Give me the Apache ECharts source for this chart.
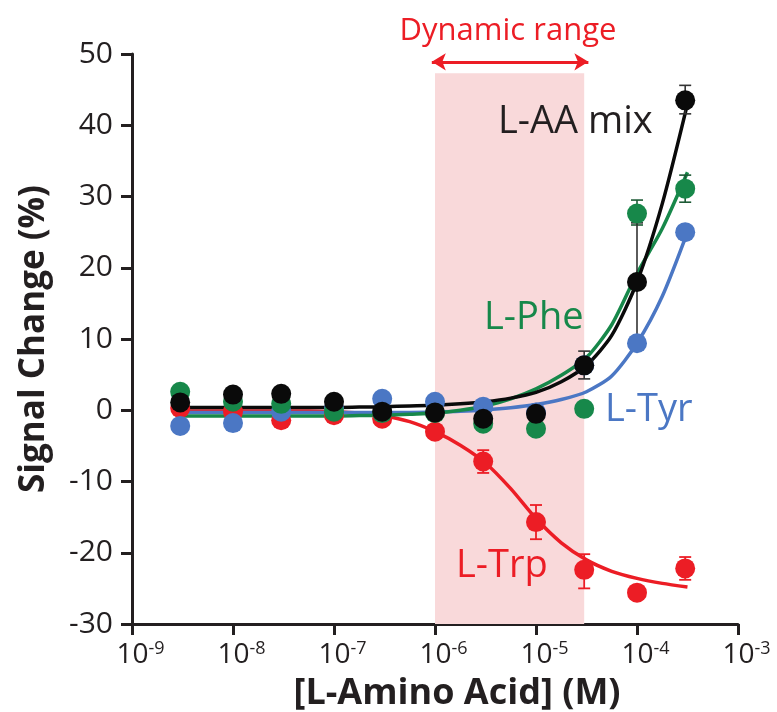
<!DOCTYPE html>
<html><head><meta charset="utf-8">
<script src="https://cdn.jsdelivr.net/npm/echarts@6/dist/echarts.min.js"></script>
<style>html,body{margin:0;padding:0;background:#fff}#c{width:777px;height:712px}</style>
</head><body><div id="c"></div>
<script>
// ---- data ----
const concentrations = [3e-9, 1e-8, 3e-8, 1e-7, 3e-7, 1e-6, 3e-6, 1e-5, 3e-5, 1e-4, 3e-4];
const trpValues = [0.3, -0.2, -1.4, -0.7, -1.2, -3.0, -7.2, -15.7, -22.4, -25.6, -22.2];
const tyrValues = [-2.2, -1.8, -0.2, 0.3, 1.6, 1.2, 0.5, -0.3, 6.3, 9.4, 25.0];
const pheValues = [2.6, 1.2, 0.9, -0.2, -0.4, -0.4, -1.9, -2.6, 0.2, 27.6, 31.1];
const mixValues = [1.1, 2.2, 2.3, 1.2, -0.2, -0.3, -1.2, -0.5, 6.3, 18.0, 43.5];

// fitted curves, every quarter decade
const curveX   = [3.16e-9, 5.62e-9, 1e-8, 1.78e-8, 3.16e-8, 5.62e-8, 1e-7, 1.78e-7, 3.16e-7, 5.62e-7, 1e-6,
                  1.78e-6, 3.16e-6, 5.62e-6, 1e-5, 1.78e-5, 3.16e-5, 5.62e-5, 1e-4, 1.78e-4, 3.16e-4];
const trpCurve = [-0.1, -0.1, -0.1, -0.1, -0.1, -0.1, -0.2, -0.4, -0.8, -1.6, -3.0,
                  -4.9, -7.4, -11.0, -15.2, -18.6, -21.0, -22.6, -23.6, -24.3, -24.8];
const tyrCurve = [-0.3, -0.3, -0.3, -0.3, -0.3, -0.3, -0.3, -0.3, -0.3, -0.3, -0.25,
                  -0.15, 0.05, 0.35, 0.8, 1.5, 2.6, 4.8, 9.4, 16.0, 25.0];
const pheCurve = [-0.8, -0.8, -0.8, -0.8, -0.8, -0.8, -0.8, -0.75, -0.7, -0.55, -0.4,
                  0.0, 0.6, 1.6, 3.0, 4.9, 7.4, 12.0, 19.2, 25.5, 33.4];
const mixCurve = [0.4, 0.4, 0.4, 0.4, 0.4, 0.4, 0.4, 0.45, 0.5, 0.6, 0.7,
                  0.9, 1.2, 1.7, 2.5, 4.0, 6.3, 10.5, 18.0, 29.0, 43.0];

// error bars: x, low, high
const trpErrX = [3e-6, 1e-5, 3e-5, 3e-4];
const trpErrLow = [-8.8, -18.1, -25.0, -23.8];
const trpErrHigh = [-5.6, -13.3, -20.2, -20.6];
const pheErrX = [1e-4, 3e-4];
const pheErrLow = [26.0, 29.2];
const pheErrHigh = [29.5, 33.0];
const mixErrX = [3e-5, 1e-4, 3e-4];
const mixErrLow = [4.4, 9.4, 41.6];
const mixErrHigh = [8.3, 26.3, 45.6];

// dynamic range band
const dynamicRange = [1e-6, 3e-5];
const dynamicTop = 47.3;
const arrowLevel = 48.9;

// axes
const xTickExponents = [-9, -8, -7, -6, -5, -4, -3];
const yTicks = [-30, -20, -10, 0, 10, 20, 30, 40, 50];

const RED = '#ec1d25', GREEN = '#17884a', BLUE = '#4b77c4', BLACK = '#0a0a0a', TXT = '#231f20';
const FONT = 'Open Sans';

const pts = (xs, ys) => xs.map((x, i) => [x, ys[i]]);
const errs = (xs, lo, hi) => xs.map((x, i) => [x, lo[i], hi[i]]);

function errRender(color, width) {
  return function (params, api) {
    const x = api.value(0), lo = api.value(1), hi = api.value(2);
    const a = api.coord([x, lo]), b = api.coord([x, hi]);
    const w = 6;
    const st = { stroke: color, lineWidth: width };
    return { type: 'group', children: [
      { type: 'line', shape: { x1: a[0], y1: a[1], x2: b[0], y2: b[1] }, style: st },
      { type: 'line', shape: { x1: a[0] - w, y1: a[1], x2: a[0] + w, y2: a[1] }, style: st },
      { type: 'line', shape: { x1: b[0] - w, y1: b[1], x2: b[0] + w, y2: b[1] }, style: st }
    ]};
  };
}

function curve(name, ys, color) {
  return { name: name, type: 'line', data: pts(curveX, ys), showSymbol: false, smooth: 0.25,
    lineStyle: { color: color, width: 3.5 }, itemStyle: { color: color }, z: 2, silent: true };
}
function errSeries(xs, lo, hi, color, width) {
  return { type: 'custom', data: errs(xs, lo, hi), renderItem: errRender(color, width),
    encode: { x: 0, y: [1, 2] }, z: 3, silent: true };
}
function dots(name, ys, color) {
  return { name: name, type: 'scatter', data: pts(concentrations, ys), symbol: 'circle', symbolSize: 20,
    itemStyle: { color: color, opacity: 1 }, z: 4, silent: true };
}
function label(text, x, y, color, size) {
  return { type: 'text', x: x, y: y, z: 100, silent: true,
    style: { text: text, fill: color, fontFamily: FONT, fontSize: size, textAlign: 'left', textVerticalAlign: 'middle' } };
}

const chart = echarts.init(document.getElementById('c'), null, { renderer: 'canvas' });
const trpLine = curve('L-Trp fit', trpCurve, RED);
trpLine.markArea = { silent: true, itemStyle: { color: '#f9d9da' },
  data: [[{ coord: [dynamicRange[0], dynamicTop] }, { coord: [dynamicRange[1], -30] }]] };
trpLine.markLine = { silent: true, symbol: ['arrow', 'arrow'], symbolSize: [13, 14], animation: false,
  lineStyle: { color: RED, width: 3, type: 'solid' }, label: { show: false },
  data: [[{ coord: [dynamicRange[0] * 0.93, arrowLevel] }, { coord: [dynamicRange[1] * 1.1, arrowLevel] }]] };

chart.setOption({
  animation: false,
  backgroundColor: '#fff',
  grid: { left: 132, right: 39, top: 54, bottom: 88, containLabel: false, outerBoundsMode: 'none' },
  xAxis: {
    type: 'log', logBase: 10, min: 1e-9, max: 1e-3, interval: 1,
    name: '[L-Amino Acid] (M)', nameLocation: 'middle', nameGap: 52,
    nameTextStyle: { fontFamily: FONT, fontWeight: 'bold', fontSize: 36, color: TXT, padding: [0, 0, 0, 44] },
    axisLine: { show: true, onZero: false, lineStyle: { color: TXT, width: 3 } },
    axisTick: { show: true, inside: false, length: 11, lineStyle: { color: TXT, width: 3 } },
    minorTick: { show: false }, splitLine: { show: false }, minorSplitLine: { show: false },
    axisLabel: {
      margin: 16, padding: [0, 0, 0, 17],
      formatter: function (v) {
        const e = Math.round(Math.log10(v));
        return xTickExponents.indexOf(e) >= 0 ? '{b|10}{s|' + e + '}' : '';
      },
      rich: {
        b: { fontFamily: FONT, fontSize: 28, color: TXT, lineHeight: 30 },
        s: { fontFamily: FONT, fontSize: 18, color: TXT, verticalAlign: 'top', lineHeight: 18 }
      }
    }
  },
  yAxis: {
    type: 'value', min: -30, max: 50, interval: 10,
    name: 'Signal Change (%)', nameLocation: 'middle', nameGap: 80,
    nameTextStyle: { fontFamily: FONT, fontWeight: 'bold', fontSize: 35, color: TXT },
    axisLine: { show: true, onZero: false, lineStyle: { color: TXT, width: 3 } },
    axisTick: { show: true, inside: false, length: 11, lineStyle: { color: TXT, width: 3 } },
    splitLine: { show: false },
    axisLabel: { margin: 19, fontFamily: FONT, fontSize: 30, color: TXT,
      formatter: function (v) { return yTicks.indexOf(v) >= 0 ? String(v) : ''; } }
  },
  graphic: [
    { type: 'text', x: 508, y: 31, z: 100, silent: true,
      style: { text: 'Dynamic range', fill: RED, fontFamily: FONT, fontSize: 31, textAlign: 'center', textVerticalAlign: 'middle' } },
    label('L-AA mix', 498, 122, TXT, 38),
    label('L-Phe', 484, 318, GREEN, 38),
    label('L-Tyr', 605, 410, BLUE, 38),
    label('L-Trp', 456, 566, RED, 38)
  ],
  series: [
    trpLine,
    curve('L-Tyr fit', tyrCurve, BLUE),
    curve('L-Phe fit', pheCurve, GREEN),
    curve('L-AA mix fit', mixCurve, BLACK),
    errSeries(trpErrX, trpErrLow, trpErrHigh, RED, 1.8),
    errSeries(pheErrX, pheErrLow, pheErrHigh, '#1d5a35', 1.6),
    errSeries(mixErrX, mixErrLow, mixErrHigh, '#333333', 1.6),
    dots('L-Trp', trpValues, RED),
    dots('L-Tyr', tyrValues, BLUE),
    dots('L-Phe', pheValues, GREEN),
    dots('L-AA mix', mixValues, BLACK)
  ]
});
</script></body></html>
